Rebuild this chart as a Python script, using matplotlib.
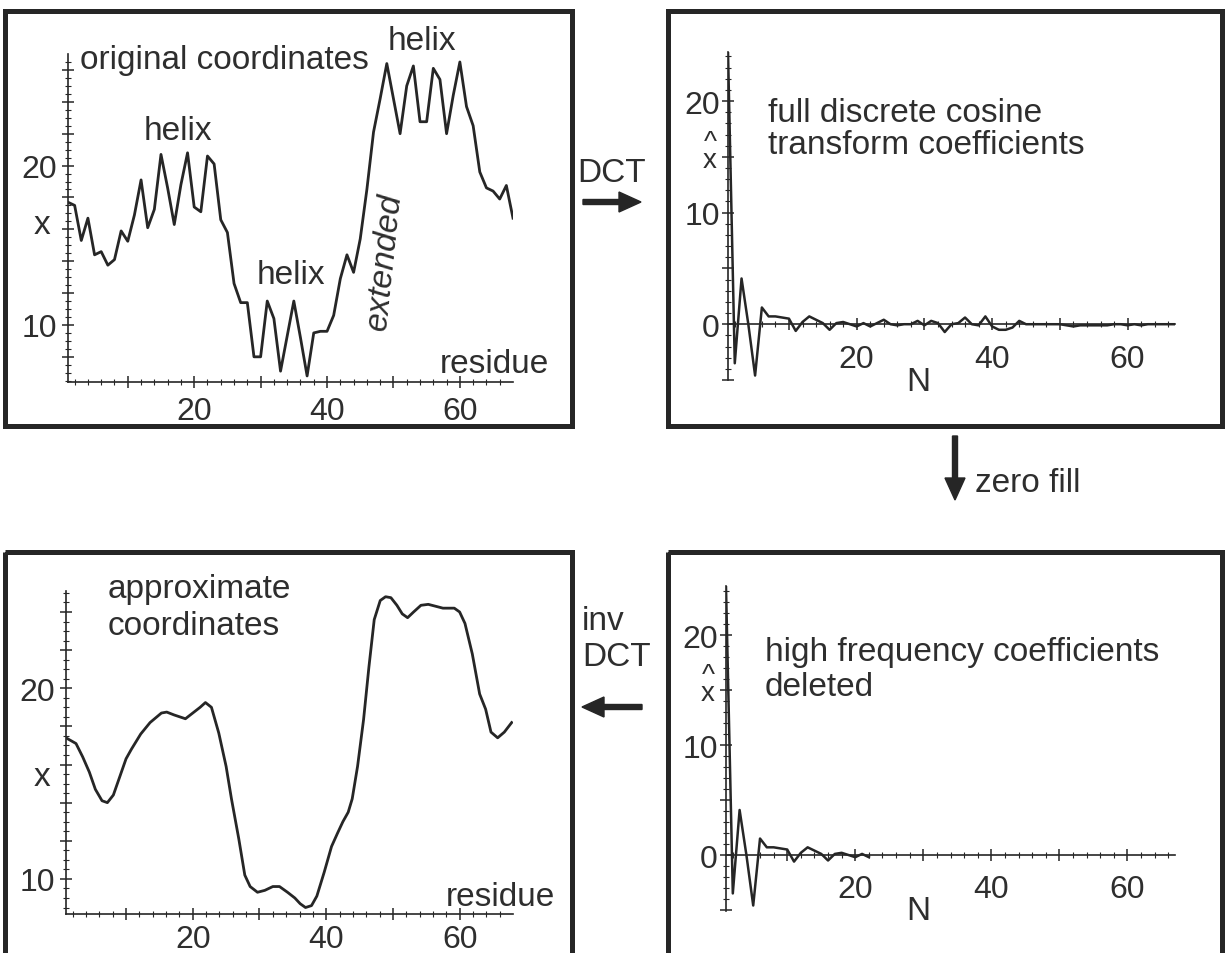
import numpy as np
import matplotlib
matplotlib.use('Agg')
import matplotlib.pyplot as plt
from matplotlib.patches import Rectangle, FancyArrow

plt.rcParams['font.family'] = ['Liberation Sans', 'DejaVu Sans']

INK = '#262626'
TXT = '#2e2e2e'

# original coordinates (residue 1..68)
residue = list(range(1, 69))
x_original = [17.7, 17.5, 15.3, 16.7, 14.4, 14.6, 13.75, 14.1, 15.9, 15.25,
              16.9, 19.1, 16.1, 17.25, 20.7, 18.6, 16.3, 18.8, 20.8, 17.4,
              17.1, 20.6, 20.1, 16.6, 15.8, 12.6, 11.4, 11.4, 8.0, 8.0,
              11.5, 10.4, 7.1, 9.3, 11.5, 9.2, 6.8, 9.5, 9.6, 9.6,
              10.6, 12.9, 14.4, 13.3, 15.4, 18.5, 22.1, 24.2, 26.4, 24.2,
              22.0, 25.0, 26.25, 22.75, 22.75, 26.1, 25.4, 22.0, 24.4, 26.5,
              23.7, 22.5, 19.6, 18.6, 18.4, 17.9, 18.75, 16.7]

# DCT coefficients, N = 1..67
n_coef = list(range(1, 68))
dct_full = [24.4, -3.5, 4.1, 0.0, -4.6, 1.5, 0.7, 0.7, 0.6, 0.5,
            -0.6, 0.2, 0.7, 0.4, 0.1, -0.5, 0.1, 0.2, 0.0, -0.2,
            0.1, -0.2, 0.1, 0.4, 0.0, -0.1, 0.0, 0.0, 0.3, -0.1,
            0.3, 0.1, -0.7, 0.0, 0.1, 0.6, 0.0, -0.1, 0.7, -0.2,
            -0.5, -0.5, -0.3, 0.3, 0.0, 0.0, 0.0, 0.0, 0.0, 0.0,
            -0.1, -0.2, -0.1, -0.1, -0.1, -0.1, -0.1, 0.0, 0.0, -0.1,
            0.0, -0.1, 0.0, 0.0, 0.0, 0.0, 0.0]
n_kept = 22  # low-frequency coefficients kept after zero fill

# approximate coordinates after inverse DCT
approx_res = [1.0, 2.5, 3.5, 4.5, 5.4, 6.4, 7.2, 8.1, 9.1, 10.0,
              10.8, 12.2, 13.6, 15.3, 16.1, 17.2, 18.9, 20.0, 21.1, 21.9,
              22.8, 23.9, 25.0, 25.8, 26.9, 27.8, 28.6, 29.7, 30.8, 32.0,
              33.0, 34.2, 35.3, 36.1, 36.9, 37.8, 38.6, 39.7, 40.8, 41.7,
              42.5, 43.3, 43.9, 44.7, 45.6, 46.4, 47.2, 48.1, 48.9, 49.7,
              50.6, 51.4, 52.2, 53.1, 54.2, 55.3, 56.4, 57.5, 59.2, 60.0,
              60.8, 61.9, 63.0, 63.9, 64.7, 65.7, 66.7, 67.8]
x_approx = [17.4, 17.1, 16.4, 15.6, 14.7, 14.1, 14.0, 14.4, 15.4, 16.3,
            16.8, 17.6, 18.2, 18.7, 18.75, 18.6, 18.4, 18.7, 19.0, 19.25,
            19.0, 17.65, 15.9, 14.2, 12.1, 10.2, 9.6, 9.3, 9.4, 9.6,
            9.6, 9.3, 9.0, 8.7, 8.5, 8.6, 9.1, 10.35, 11.7, 12.4,
            13.0, 13.5, 14.2, 15.9, 18.35, 21.1, 23.6, 24.6, 24.8, 24.75,
            24.35, 23.9, 23.7, 24.0, 24.35, 24.4, 24.3, 24.2, 24.2, 24.0,
            23.4, 21.8, 19.7, 18.9, 17.7, 17.4, 17.7, 18.2]

W, H = 1226, 954
fig = plt.figure(figsize=(W / 100, H / 100), dpi=100)


def px_axes(l, t, r, b):
    return fig.add_axes([l / W, 1 - b / H, (r - l) / W, (b - t) / H])


def style_axes(ax, xmaj, xlab, xmin, ymaj, ylab, ymin, xpad, ypad):
    for s in ['top', 'right']:
        ax.spines[s].set_visible(False)
    for s in ['left', 'bottom']:
        ax.spines[s].set_linewidth(1.2)
        ax.spines[s].set_color(INK)
    ax.set_xticks(xmaj)
    ax.set_xticklabels(xlab)
    ax.set_xticks(xmin, minor=True)
    ax.set_yticks(ymaj)
    ax.set_yticklabels(ylab)
    ax.set_yticks(ymin, minor=True)
    ax.tick_params(which='major', direction='inout', length=8, width=1.1,
                   colors=INK, labelcolor=TXT, labelsize=23)
    ax.tick_params(which='minor', direction='inout', length=4, width=0.8,
                   colors=INK)
    ax.tick_params(axis='x', which='major', pad=xpad)
    ax.tick_params(axis='y', which='major', pad=ypad)
    ax.patch.set_visible(False)


res_ticks = [10, 20, 30, 40, 50, 60]
res_labels = ['', '20', '', '40', '', '60']
coord_ticks = list(range(8, 27, 2))
coord_labels = ['10' if v == 10 else '20' if v == 20 else '' for v in coord_ticks]
coef_yticks = [-5, 0, 5, 10, 15, 20]
coef_ylabels = ['', '0', '', '10', '', '20']

# top left: original coordinates
ax1 = px_axes(68, 55, 513, 383)
ax1.plot(residue, x_original, color=INK, lw=2.0)
ax1.set_xlim(1, 68)
ax1.set_ylim(6.42, 27)
style_axes(ax1, res_ticks, res_labels, np.arange(2, 68, 2),
           coord_ticks, coord_labels, np.arange(6.5, 27, 0.5), 6, 4)

# top right: full DCT
ax2 = px_axes(728, 53, 1175, 381)
ax2.plot(n_coef, dct_full, color=INK, lw=1.8)
ax2.set_xlim(1, 67)
ax2.set_ylim(-5.0, 24.4)
ax2.spines['bottom'].set_position(('data', 0))
style_axes(ax2, res_ticks, res_labels, np.arange(2, 67, 2),
           coef_yticks, coef_ylabels, np.arange(-5, 25, 1), 10, 2)

# bottom right: truncated DCT
ax4 = px_axes(726, 587, 1175, 912)
ax4.plot(n_coef[:n_kept], dct_full[:n_kept], color=INK, lw=1.8)
ax4.set_xlim(1, 67)
ax4.set_ylim(-5.1, 24.5)
ax4.spines['bottom'].set_position(('data', 0))
style_axes(ax4, res_ticks, res_labels, np.arange(2, 67, 2),
           coef_yticks, coef_ylabels, np.arange(-5, 25, 1), 10, 2)

# bottom left: approximate coordinates
ax3 = px_axes(66, 592, 513, 915)
ax3.plot(approx_res, x_approx, color=INK, lw=2.0)
ax3.set_xlim(1, 68)
ax3.set_ylim(8.16, 25.1)
bl_ticks = list(range(10, 26, 2))
bl_labels = ['10' if v == 10 else '20' if v == 20 else '' for v in bl_ticks]
style_axes(ax3, res_ticks, res_labels, np.arange(2, 68, 2),
           bl_ticks, bl_labels, np.arange(8.5, 25.1, 0.5), 3, 4)

# overlay in pixel coordinates for frames, arrows and labels
ov = fig.add_axes([0, 0, 1, 1])
ov.set_xlim(0, W)
ov.set_ylim(H, 0)
ov.axis('off')

for (l, t, w, h) in [(5, 12, 567, 415), (668, 12, 554, 415),
                     (5, 553, 567, 420), (668, 553, 554, 420)]:
    ov.add_patch(Rectangle((l, t), w, h, fill=False, lw=3.6, ec=INK))

arrow_kw = dict(width=5, head_width=20, head_length=22,
                length_includes_head=True, color=INK)
ov.add_patch(FancyArrow(583, 203, 58, 0, **arrow_kw))
ov.add_patch(FancyArrow(955, 437, 0, 64, **arrow_kw))
ov.add_patch(FancyArrow(642, 708, -60, 0, **arrow_kw))

fs = 24
tk = dict(color=TXT, fontsize=fs)
ov.text(612, 173, 'DCT', ha='center', va='center', **tk)
ov.text(975, 484, 'zero fill', ha='left', va='center', **tk)
ov.text(582, 622, 'inv', ha='left', va='center', **tk)
ov.text(582, 658, 'DCT', ha='left', va='center', **tk)

ov.text(80, 60, 'original coordinates', ha='left', va='center', **tk)
ov.text(178, 132, 'helix', ha='center', va='center', **tk)
ov.text(291, 276, 'helix', ha='center', va='center', **tk)
ov.text(422, 42, 'helix', ha='center', va='center', **tk)
ov.text(385, 262, 'extended', ha='center', va='center', rotation=84,
        style='italic', **tk)
ov.text(494, 365, 'residue', ha='center', va='center', **tk)
ov.text(42, 226, 'x', ha='center', va='center', **tk)

ov.text(768, 113, 'full discrete cosine', ha='left', va='center', **tk)
ov.text(768, 145, 'transform coefficients', ha='left', va='center', **tk)
ov.text(710, 152, '^\nx', ha='center', va='center', linespacing=0.6,
        color=TXT, fontsize=20)
ov.text(918, 383, 'N', ha='center', va='center', **tk)

ov.text(765, 653, 'high frequency coefficients', ha='left', va='center', **tk)
ov.text(765, 688, 'deleted', ha='left', va='center', **tk)
ov.text(708, 685, '^\nx', ha='center', va='center', linespacing=0.6,
        color=TXT, fontsize=20)
ov.text(918, 912, 'N', ha='center', va='center', **tk)

ov.text(108, 590, 'approximate', ha='left', va='center', **tk)
ov.text(108, 627, 'coordinates', ha='left', va='center', **tk)
ov.text(42, 778, 'x', ha='center', va='center', **tk)
ov.text(500, 898, 'residue', ha='center', va='center', **tk)

fig.savefig('out.png', dpi=100, facecolor='white')
